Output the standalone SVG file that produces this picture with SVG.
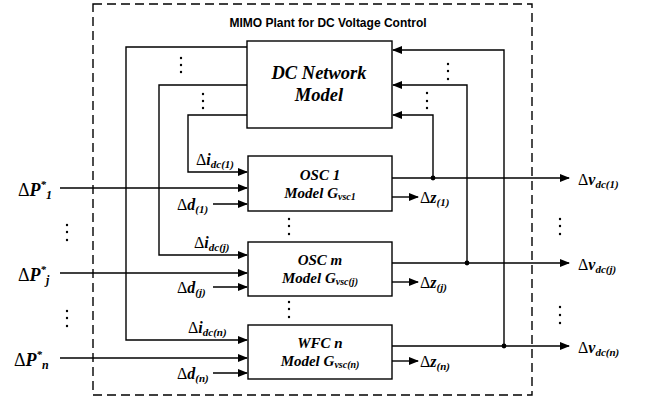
<svg xmlns="http://www.w3.org/2000/svg" width="645" height="405" viewBox="0 0 645 405">
<style>
.ln{fill:none;stroke:#000;stroke-width:1.4}
.bx{fill:#fff;stroke:#000;stroke-width:1.4}
.m{font-family:"Liberation Serif",serif;font-weight:bold;font-style:italic;fill:#000}
.d{font-family:"Liberation Serif",serif;font-style:normal;font-weight:normal}
.t{font-family:"Liberation Serif",serif;font-weight:bold;font-style:italic;fill:#000;text-anchor:middle}
.dot{fill:#000}
</style>
<defs>
<marker id="ah" markerWidth="10" markerHeight="8" refX="9" refY="4" orient="auto" markerUnits="userSpaceOnUse">
<path d="M0,0 L10,4 L0,8 z" fill="#000"/>
</marker>
</defs>
<rect x="93" y="4" width="439" height="391" fill="none" stroke="#000" stroke-width="1.4" stroke-dasharray="9,5"/>
<text x="328" y="27" font-family="Liberation Sans,Arial,sans-serif" font-weight="bold" font-size="12" text-anchor="middle">MIMO Plant for DC Voltage Control</text>

<g id="connectors">
<path class="ln" d="M247,47 H126 V340 H247" marker-end="url(#ah)"/>
<path class="ln" d="M247,85 H159 V255 H247" marker-end="url(#ah)"/>
<path class="ln" d="M247,115 H188 V172 H247" marker-end="url(#ah)"/>
<path class="ln" d="M504,346 V50 H393" marker-end="url(#ah)"/>
<path class="ln" d="M467,263 V85 H393" marker-end="url(#ah)"/>
<path class="ln" d="M433,178 V115 H393" marker-end="url(#ah)"/>
<path class="ln" d="M60,188 H247" marker-end="url(#ah)"/>
<path class="ln" d="M60,273 H247" marker-end="url(#ah)"/>
<path class="ln" d="M60,358 H247" marker-end="url(#ah)"/>
<path class="ln" d="M213,204 H247" marker-end="url(#ah)"/>
<path class="ln" d="M213,287 H247" marker-end="url(#ah)"/>
<path class="ln" d="M213,373 H247" marker-end="url(#ah)"/>
<path class="ln" d="M392,178 H569" marker-end="url(#ah)"/>
<path class="ln" d="M392,263 H569" marker-end="url(#ah)"/>
<path class="ln" d="M392,346 H569" marker-end="url(#ah)"/>
<path class="ln" d="M392,197 H418" marker-end="url(#ah)"/>
<path class="ln" d="M392,282 H418" marker-end="url(#ah)"/>
<path class="ln" d="M392,361 H418" marker-end="url(#ah)"/>
<circle class="dot" cx="433" cy="178" r="2.4"/>
<circle class="dot" cx="467" cy="263" r="2.4"/>
<circle class="dot" cx="504" cy="346" r="2.4"/>
</g>

<g id="dc-network">
<rect class="bx" x="247" y="41" width="145" height="87"/>
<text class="t" x="319" y="79" font-size="18.5">DC Network</text>
<text class="t" x="319" y="101" font-size="18.5">Model</text>
</g>
<g id="osc1">
<rect class="bx" x="248" y="156" width="144" height="55"/>
<text class="t" x="320" y="180" font-size="15">OSC 1</text>
<text class="t" x="320" y="198" font-size="15">Model G<tspan font-size="10" dy="2">vsc1</tspan></text>
</g>
<g id="oscm">
<rect class="bx" x="248" y="242" width="144" height="54"/>
<text class="t" x="320" y="265" font-size="15">OSC m</text>
<text class="t" x="320" y="283" font-size="15">Model G<tspan font-size="10" dy="2">vsc(j)</tspan></text>
</g>
<g id="wfcn">
<rect class="bx" x="248" y="325" width="144" height="54"/>
<text class="t" x="320" y="348" font-size="15">WFC n</text>
<text class="t" x="320" y="366" font-size="15">Model G<tspan font-size="10" dy="2">vsc(n)</tspan></text>
</g>

<g id="labels">
<text class="m" x="18" y="196" font-size="18"><tspan class="d">Δ</tspan>P<tspan font-size="11" dy="-8">*</tspan><tspan font-size="12" dy="11">1</tspan></text>
<text class="m" x="18" y="281" font-size="18"><tspan class="d">Δ</tspan>P<tspan font-size="11" dy="-8">*</tspan><tspan font-size="12" dy="11">j</tspan></text>
<text class="m" x="14" y="366" font-size="18"><tspan class="d">Δ</tspan>P<tspan font-size="11" dy="-8">*</tspan><tspan font-size="12" dy="11">n</tspan></text>

<text class="m" x="196" y="165" font-size="16"><tspan class="d">Δ</tspan>i<tspan font-size="11" dy="3">dc(1)</tspan></text>
<text class="m" x="194" y="248" font-size="16"><tspan class="d">Δ</tspan>i<tspan font-size="11" dy="3">dc(j)</tspan></text>
<text class="m" x="188" y="333" font-size="16"><tspan class="d">Δ</tspan>i<tspan font-size="11" dy="3">dc(n)</tspan></text>

<text class="m" x="177" y="210" font-size="16"><tspan class="d">Δ</tspan>d<tspan font-size="11" dy="3">(1)</tspan></text>
<text class="m" x="177" y="293" font-size="16"><tspan class="d">Δ</tspan>d<tspan font-size="11" dy="3">(j)</tspan></text>
<text class="m" x="177" y="379" font-size="16"><tspan class="d">Δ</tspan>d<tspan font-size="11" dy="3">(n)</tspan></text>

<text class="m" x="420" y="203" font-size="16"><tspan class="d">Δ</tspan>z<tspan font-size="11" dy="3">(1)</tspan></text>
<text class="m" x="420" y="288" font-size="16"><tspan class="d">Δ</tspan>z<tspan font-size="11" dy="3">(j)</tspan></text>
<text class="m" x="420" y="367" font-size="16"><tspan class="d">Δ</tspan>z<tspan font-size="11" dy="3">(n)</tspan></text>

<text class="m" x="578" y="185" font-size="16"><tspan class="d">Δ</tspan>v<tspan font-size="11" dy="3">dc(1)</tspan></text>
<text class="m" x="578" y="270" font-size="16"><tspan class="d">Δ</tspan>v<tspan font-size="11" dy="3">dc(j)</tspan></text>
<text class="m" x="578" y="353" font-size="16"><tspan class="d">Δ</tspan>v<tspan font-size="11" dy="3">dc(n)</tspan></text>
</g>

<g id="ellipses" class="dot">
<circle cx="181" cy="58" r="1.2"/><circle cx="181" cy="65" r="1.2"/><circle cx="181" cy="72" r="1.2"/>
<circle cx="203" cy="94" r="1.2"/><circle cx="203" cy="101" r="1.2"/><circle cx="203" cy="108" r="1.2"/>
<circle cx="448" cy="64" r="1.2"/><circle cx="448" cy="71" r="1.2"/><circle cx="448" cy="79" r="1.2"/>
<circle cx="427" cy="93" r="1.2"/><circle cx="427" cy="101" r="1.2"/><circle cx="427" cy="108" r="1.2"/>
<circle cx="67" cy="225" r="1.2"/><circle cx="67" cy="232" r="1.2"/><circle cx="67" cy="240" r="1.2"/>
<circle cx="67" cy="311" r="1.2"/><circle cx="67" cy="318" r="1.2"/><circle cx="67" cy="326" r="1.2"/>
<circle cx="289" cy="219" r="1.2"/><circle cx="289" cy="226" r="1.2"/><circle cx="289" cy="234" r="1.2"/>
<circle cx="289" cy="302" r="1.2"/><circle cx="289" cy="309" r="1.2"/><circle cx="289" cy="317" r="1.2"/>
<circle cx="560" cy="219" r="1.2"/><circle cx="560" cy="226" r="1.2"/><circle cx="560" cy="234" r="1.2"/>
<circle cx="560" cy="307" r="1.2"/><circle cx="560" cy="315" r="1.2"/><circle cx="560" cy="323" r="1.2"/>
</g>
</svg>
